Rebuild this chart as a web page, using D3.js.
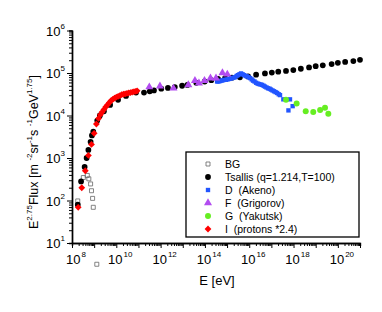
<!DOCTYPE html>
<html>
<head>
<meta charset="utf-8">
<script src="https://cdn.jsdelivr.net/npm/d3@7"></script>
<style>
body { margin: 0; background: #fff; }
svg text { font-family: "Liberation Sans", Arial, sans-serif; fill: #000; }
</style>
</head>
<body>
<svg id="chart" width="382" height="312"></svg>
<script>
// values, as log10(E [eV]) and log10(E^2.75 flux)
var bgLogE = [8.26, 8.51, 8.69, 8.76, 8.84, 8.88, 8.93, 8.96, 9.12];
var bgLogF = [1.99, 2.54, 2.59, 2.51, 2.39, 2.23, 2.05, 1.84, 0.50];

var tsallisLogE = [8.26, 8.41, 8.57, 8.66, 8.74, 8.84, 8.90, 8.96, 9.14, 9.26, 9.44, 9.72, 10.08, 10.44, 10.89,
  11.25, 11.51, 11.70, 12.03, 12.33, 12.64, 12.97, 13.21, 13.61, 13.99, 14.29, 14.59, 14.91, 15.22, 15.58, 15.95,
  16.31, 16.71, 17.02, 17.31, 17.66, 17.99, 18.33, 18.70, 19.00, 19.32, 19.72, 20.00, 20.33, 20.70, 21.00];
var tsallisLogF = [1.90, 2.45, 2.79, 3.00, 3.19, 3.38, 3.53, 3.62, 3.88, 4.00, 4.10, 4.25, 4.37, 4.46, 4.54,
  4.54, 4.57, 4.59, 4.63, 4.65, 4.67, 4.70, 4.72, 4.77, 4.80, 4.83, 4.86, 4.88, 4.89, 4.90, 4.92,
  4.96, 4.99, 5.01, 5.03, 5.05, 5.07, 5.10, 5.13, 5.16, 5.18, 5.21, 5.24, 5.26, 5.28, 5.31];

var akenoLogE = [14.55, 14.61, 14.68, 14.75, 14.82, 14.88, 14.95, 15.02, 15.09, 15.16, 15.22, 15.29, 15.36, 15.43,
  15.49, 15.56, 15.63, 15.70, 15.77, 15.84, 15.90, 15.97, 16.04, 16.11, 16.17, 16.24, 16.31, 16.38, 16.44, 16.51,
  16.58, 16.65, 16.71, 16.78, 16.85, 16.92, 16.98, 17.05, 17.12, 17.19, 17.26, 17.33, 17.39, 17.54, 17.84, 17.96, 17.77];
var akenoLogF = [4.80, 4.80, 4.81, 4.82, 4.83, 4.84, 4.84, 4.85, 4.86, 4.87, 4.88, 4.89, 4.90, 4.93,
  4.95, 4.97, 4.99, 4.97, 4.95, 4.93, 4.92, 4.90, 4.88, 4.85, 4.82, 4.80, 4.77, 4.75, 4.74, 4.73,
  4.72, 4.70, 4.68, 4.66, 4.64, 4.63, 4.61, 4.59, 4.57, 4.55, 4.53, 4.50, 4.48, 4.38, 4.38, 4.22, 4.12];

var grigorovLogE = [11.49, 11.97, 12.58, 13.25, 13.55, 13.73, 13.98, 14.25, 14.50, 14.79, 15.01];
var grigorovLogF = [4.67, 4.69, 4.64, 4.72, 4.82, 4.76, 4.82, 4.88, 4.88, 5.00, 4.97];

var yakutskLogE = [17.66, 18.14, 18.55, 18.89, 19.20, 19.42, 19.57];
var yakutskLogF = [4.37, 4.28, 4.10, 4.08, 4.13, 4.18, 4.04];

var protonLogE = [8.28, 8.44, 8.60, 8.74, 8.88, 9.00, 9.10, 9.20, 9.28, 9.36, 9.44, 9.52, 9.60, 9.68, 9.76,
  9.84, 9.92, 10.00, 10.08, 10.16, 10.24, 10.32, 10.40, 10.48, 10.56, 10.64, 10.72, 10.80, 10.88, 10.94];
var protonLogF = [1.84, 2.30, 2.70, 3.06, 3.32, 3.58, 3.80, 3.93, 4.02, 4.08, 4.14, 4.20, 4.25, 4.30, 4.35,
  4.38, 4.41, 4.43, 4.45, 4.47, 4.49, 4.50, 4.51, 4.52, 4.53, 4.54, 4.55, 4.56, 4.57, 4.58];

var xLabelExps = [8, 10, 12, 14, 16, 18, 20];
var yLabelExps = [1, 2, 3, 4, 5, 6];
var legendNames = ["BG", "Tsallis (q=1.214,T=100)", "D  (Akeno)", "F  (Grigorov)", "G  (Yakutsk)", "I  (protons *2.4)"];

var svg = d3.select("#chart");

var x = d3.scaleLog().domain([1e8, 1e21]).range([72, 360]);
var y = d3.scaleLog().domain([10, 1e6]).range([243, 30.5]);

// ticks: majors every decade, minors 2..9
function ticksFor(lo, hi) {
  var major = [], minor = [];
  for (var p = lo; p <= hi; p++) {
    major.push(Math.pow(10, p));
    if (p < hi) for (var k = 2; k <= 9; k++) minor.push(k * Math.pow(10, p));
  }
  return { major: major, minor: minor };
}
var xt = ticksFor(8, 21), yt = ticksFor(1, 6);

function drawAxis(g) {
  g.selectAll("text").remove();
  g.select(".domain").attr("stroke-width", 1.4);
  g.selectAll("line").attr("stroke-width", 1);
}

var gx = svg.append("g").attr("transform", "translate(0,243)");
gx.append("g").call(d3.axisBottom(x).tickValues(xt.minor).tickSize(3).tickFormat("")).call(drawAxis);
gx.append("g").call(d3.axisBottom(x).tickValues(xt.major).tickSize(5).tickSizeOuter(0).tickFormat("")).call(drawAxis);

var gy = svg.append("g").attr("transform", "translate(72,0)");
gy.append("g").call(d3.axisLeft(y).tickValues(yt.minor).tickSize(3).tickFormat("")).call(drawAxis);
gy.append("g").call(d3.axisLeft(y).tickValues(yt.major).tickSize(5).tickSizeOuter(0).tickFormat("")).call(drawAxis);

// tick labels with superscripts
xLabelExps.forEach(function(e) {
  var t = svg.append("text")
      .attr("x", x(Math.pow(10, e)) + 4)
      .attr("y", 264)
      .attr("text-anchor", "middle")
      .style("font-size", "13px");
  t.append("tspan").text("10");
  t.append("tspan").attr("dy", -7).attr("dx", 1).style("font-size", "8px").text(e);
});
yLabelExps.forEach(function(e) {
  var t = svg.append("text")
      .attr("x", 65)
      .attr("y", y(Math.pow(10, e)) + 5)
      .attr("text-anchor", "end")
      .style("font-size", "13px");
  t.append("tspan").text("10");
  t.append("tspan").attr("dy", -7).style("font-size", "8px").text(e);
});

// axis titles
svg.append("text")
    .attr("x", 217).attr("y", 285)
    .attr("text-anchor", "middle")
    .style("font-size", "13px")
    .text("E [eV]");

var yt2 = svg.append("text")
    .attr("transform", "translate(38,152) rotate(-90)")
    .attr("text-anchor", "middle")
    .style("font-size", "12.5px");
[["E", 0], ["2.75", 1], ["Flux [m ", 0], ["-2", 1], ["sr", 0], ["-1", 1], ["s ", 0], ["-1", 1], ["GeV", 0], ["1.75", 1], ["]", 0]]
  .forEach(function(p, i, arr) {
    var prevSup = i > 0 && arr[i - 1][1] === 1;
    var ts = yt2.append("tspan").text(p[0]);
    if (p[1] === 1) ts.attr("dy", -6).style("font-size", "8px");
    else if (prevSup) ts.attr("dy", 6);
  });

// markers
var sym = {
  bg: d3.symbol().type(d3.symbolSquare).size(16),
  circ: d3.symbol().type(d3.symbolCircle).size(26),
  sq: d3.symbol().type(d3.symbolSquare).size(19),
  tri: d3.symbol().type(d3.symbolTriangle).size(28),
  dia: d3.symbol().type(d3.symbolSquare).size(23),
  grn: d3.symbol().type(d3.symbolCircle).size(28)
};
var styles = [
  { path: sym.bg, fill: "none", stroke: "#666", rot: 0 },
  { path: sym.circ, fill: "#000", stroke: "none", rot: 0 },
  { path: sym.sq, fill: "#2255ff", stroke: "none", rot: 0 },
  { path: sym.tri, fill: "#b24cf0", stroke: "none", rot: 0 },
  { path: sym.grn, fill: "#66ee22", stroke: "none", rot: 0 },
  { path: sym.dia, fill: "#ff0000", stroke: "none", rot: 45 }
];

function series(logE, logF, st) {
  svg.append("g").selectAll("path")
    .data(logE.map(function(e, i) { return [Math.pow(10, e), Math.pow(10, logF[i])]; }))
    .enter().append("path")
      .attr("d", st.path())
      .attr("transform", function(d) {
        return "translate(" + x(d[0]) + "," + y(d[1]) + ") rotate(" + st.rot + ")";
      })
      .attr("fill", st.fill)
      .attr("stroke", st.stroke)
      .attr("stroke-width", 0.8);
}
series(bgLogE, bgLogF, styles[0]);
series(tsallisLogE, tsallisLogF, styles[1]);
series(akenoLogE, akenoLogF, styles[2]);
series(grigorovLogE, grigorovLogF, styles[3]);
series(yakutskLogE, yakutskLogF, styles[4]);
series(protonLogE, protonLogF, styles[5]);

// legend
var lg = svg.append("g");
lg.append("rect")
    .attr("x", 186).attr("y", 152).attr("width", 173).attr("height", 85)
    .attr("fill", "#fff").attr("stroke", "#000").attr("stroke-width", 1.3);
legendNames.forEach(function(name, i) {
  var ly = 164 + i * 13;
  var st = styles[i];
  lg.append("path")
      .attr("d", st.path())
      .attr("transform", "translate(208," + ly + ") rotate(" + st.rot + ")")
      .attr("fill", st.fill).attr("stroke", st.stroke).attr("stroke-width", 0.8);
  lg.append("text")
      .attr("x", 225).attr("y", ly + 3.5)
      .style("font-size", "10.5px")
      .style("white-space", "pre")
      .text(name);
});
</script>
</body>
</html>
